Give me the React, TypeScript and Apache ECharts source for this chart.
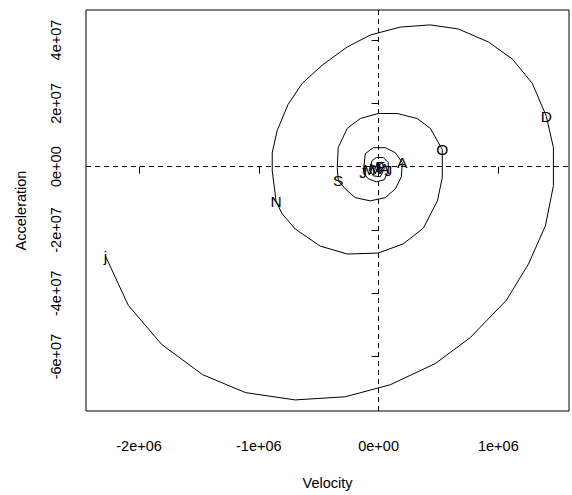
import React, { useEffect, useRef } from "react";
import * as echarts from "echarts";

// Phase-plane curve (velocity, acceleration), outer end first
const velocity = [
  -2280000, -2090000, -1810000, -1470000, -1110000, -696000, -278000, 98000, 474000, 766000,
  1067000, 1251000, 1393000, 1460000, 1460000, 1401000, 1284000, 1117000, 917000, 666000,
  432000, 181000, -69000, -262000, -470000, -638000, -755000, -847000, -888000, -888000,
  -855000, -805000, -696000, -487000, -262000, -3000, 206000, 374000, 491000, 532000,
  532000, 432000, 323000, 156000, -3000, -153000, -262000, -337000, -345000, -337000,
  -278000, -195000, -69000, 56000, 140000, 190000, 198000, 140000, 56000, -44000,
  -111000, -128000, -86000, -19000, 48000, 81000, 81000, 39000, -19000, -54000,
  -78000, -44000, 14000, 48000, 31000, -11000, -28000, -3000, 23000, 14000,
];
const acceleration = [
  -2.83e7, -4.38e7, -5.62e7, -6.57e7, -7.14e7, -7.37e7, -7.27e7, -6.89e7, -6.22e7, -5.4e7,
  -4.22e7, -3.08e7, -1.87e7, -6.0e6, 6.0e6, 1.59e7, 2.63e7, 3.4e7, 3.94e7, 4.35e7,
  4.48e7, 4.41e7, 4.16e7, 3.78e7, 3.21e7, 2.63e7, 1.97e7, 1.14e7, 4.4e6, -1.3e6,
  -1.11e7, -1.49e7, -1.97e7, -2.51e7, -2.76e7, -2.73e7, -2.44e7, -1.94e7, -1.08e7, -3.5e6,
  5.4e6, 1.21e7, 1.52e7, 1.68e7, 1.68e7, 1.52e7, 1.21e7, 6.0e6, -3.0e5, -4.4e6,
  -7.0e6, -9.8e6, -1.08e7, -9.8e6, -7.0e6, -3.2e6, 1.3e6, 4.4e6, 6.0e6, 6.0e6,
  4.1e6, -1.9e6, -3.8e6, -4.8e6, -4.1e6, -1.3e6, 1.3e6, 2.9e6, 2.9e6, 1.9e6,
  -1.0e6, -2.9e6, -3.2e6, -6.0e5, 1.0e6, 1.3e6, -6.0e5, -1.9e6, -1.0e6, 0,
];
const monthLabels = ["j", "D", "N", "O", "S", "A", "J", "J", "M", "A", "M", "F"];
const labelIndex = [0, 15, 30, 40, 49, 56, 61, 65, 70, 73, 76, 79];

const xTicks = [-2e6, -1e6, 0, 1e6];
const xTickLabels = ["-2e+06", "-1e+06", "0e+00", "1e+06"];
const yTicks = [-6e7, -4e7, -2e7, 0, 2e7, 4e7];
const yTickLabels = ["-6e+07", "-4e+07", "-2e+07", "0e+00", "2e+07", "4e+07"];

const FONT = "'Liberation Sans', Arial, sans-serif";
const FS = 14.5;

function fmt(ticks: number[], labels: string[]) {
  return (v: number) => {
    for (let i = 0; i < ticks.length; i++) {
      if (Math.abs(ticks[i] - v) < 1) return labels[i];
    }
    return "";
  };
}

export default function App() {
  const ref = useRef<HTMLDivElement>(null);
  useEffect(() => {
    if (!ref.current) return;
    const chart = echarts.init(ref.current, undefined, { renderer: "svg" });
    const curve = velocity.map((v, i) => [v, acceleration[i]]);
    const labelData = labelIndex.map((idx, i) => ({
      name: monthLabels[i],
      value: [velocity[idx], acceleration[idx]],
    }));
    chart.setOption({
      animation: false,
      backgroundColor: "#fff",
      textStyle: { fontFamily: FONT, color: "#000" },
      grid: {
        left: 86,
        top: 10,
        right: 3,
        bottom: 84,
        show: true,
        borderColor: "#000",
        borderWidth: 1,
        backgroundColor: "transparent",
      },
      xAxis: {
        type: "value",
        min: -2.443e6,
        max: 1.59e6,
        name: "Velocity",
        nameLocation: "middle",
        nameGap: 64,
        nameTextStyle: { fontFamily: FONT, fontSize: FS, color: "#000" },
        axisLine: { show: false },
        splitLine: { show: false },
        axisTick: {
          show: true,
          inside: false,
          length: 7,
          customValues: xTicks,
          lineStyle: { color: "#000", width: 1 },
        },
        axisLabel: {
          customValues: xTicks,
          formatter: fmt(xTicks, xTickLabels),
          margin: 27,
          fontFamily: FONT,
          fontSize: FS,
          color: "#000",
        },
      },
      yAxis: {
        type: "value",
        min: -7.72e7,
        max: 4.95e7,
        name: "Acceleration",
        nameLocation: "middle",
        nameGap: 58,
        nameRotate: 90,
        nameTextStyle: { fontFamily: FONT, fontSize: FS, color: "#000" },
        axisLine: { show: false },
        splitLine: { show: false },
        axisTick: {
          show: true,
          inside: false,
          length: 7,
          customValues: yTicks,
          lineStyle: { color: "#000", width: 1 },
        },
        axisLabel: {
          customValues: yTicks,
          formatter: fmt(yTicks, yTickLabels),
          rotate: 90,
          margin: 23,
          fontFamily: FONT,
          fontSize: FS,
          color: "#000",
        },
      },
      series: [
        {
          type: "line",
          data: curve,
          showSymbol: false,
          symbol: "none",
          lineStyle: { color: "#000", width: 1 },
          silent: true,
          markLine: {
            silent: true,
            symbol: ["none", "none"],
            label: { show: false },
            lineStyle: { color: "#000", width: 1, type: [5, 4] },
            data: [{ xAxis: 0 }, { yAxis: 0 }],
          },
        },
        {
          type: "scatter",
          data: labelData,
          symbolSize: 0,
          itemStyle: { color: "#000" },
          silent: true,
          z: 10,
          label: {
            show: true,
            position: "inside",
            formatter: "{b}",
            fontFamily: FONT,
            fontSize: 15.5,
            color: "#000",
            opacity: 1,
            textBorderWidth: 0,
          },
        },
      ],
    });
    return () => chart.dispose();
  }, []);
  return (
    <div
      ref={ref}
      style={{ position: "absolute", left: 0, top: 0, width: 572, height: 495 }}
    />
  );
}
